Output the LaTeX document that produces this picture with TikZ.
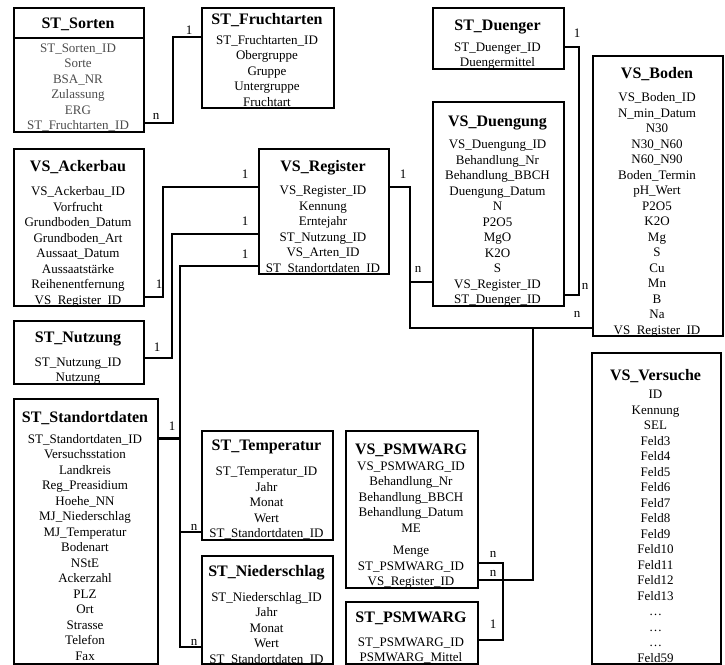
\documentclass[tikz,border=0pt]{standalone}
\usepackage{fontspec}
\setmainfont{Liberation Serif}
\tikzset{every picture/.style={line width=0.75pt}}
\tikzset{
  tbl/.style={draw, line width=2.4pt, inner sep=0pt, anchor=north west},
  fields/.style={anchor=north, inner sep=0pt, align=center, font=\fontsize{13}{15.5}\selectfont},
  lnk/.style={line width=1.8pt},
  card/.style={inner sep=0pt, font=\fontsize{13}{15.5}\selectfont},
}
\newcommand{\tabtitle}[1]{{\fontsize{16}{18}\selectfont\bfseries #1}}

\begin{document}
\begin{tikzpicture}[x=1pt,y=1pt,yscale=-1,xscale=1]
\useasboundingbox (0,0) rectangle (725,664);

% Table ST_Sorten
\node[tbl, minimum width=130pt, minimum height=124pt] (sorten) at (13,7) {};
\draw[line width=1.2pt] (sorten.west |- 0,38) -- (sorten.east |- 0,38);
\node[fields, text=black!70] (sortenTxt) at (78,18) {{\color{black}\tabtitle{ST\_Sorten}}\\[8pt]ST\_Sorten\_ID\\Sorte\\BSA\_NR\\Zulassung\\ERG\\ST\_Fruchtarten\_ID};
% Table ST_Fruchtarten
\node[tbl, minimum width=132pt, minimum height=100pt] (fruchtarten) at (201,7) {};
\node[fields] (fruchtartenTxt) at (267,13) {\tabtitle{ST\_Fruchtarten}\\[4.5pt]ST\_Fruchtarten\_ID\\Obergruppe\\Gruppe\\Untergruppe\\Fruchtart};
% Table ST_Duenger
\node[tbl, minimum width=131pt, minimum height=61pt] (duenger) at (432,7) {};
\node[fields] (duengerTxt) at (497.5,20) {\tabtitle{ST\_Duenger}\\[5pt]ST\_Duenger\_ID\\Duengermittel};
% Table VS_Duengung
\node[tbl, minimum width=131pt, minimum height=204pt] (duengung) at (432,101) {};
\node[fields] (duengungTxt) at (497.5,116) {\tabtitle{VS\_Duengung}\\[6.5pt]VS\_Duengung\_ID\\Behandlung\_Nr\\Behandlung\_BBCH\\Duengung\_Datum\\N\\P2O5\\MgO\\K2O\\S\\VS\_Register\_ID\\ST\_Duenger\_ID};
% Table VS_Boden
\node[tbl, minimum width=130pt, minimum height=280pt] (boden) at (592,55) {};
\node[fields] (bodenTxt) at (657,67) {\tabtitle{VS\_Boden}\\[8pt]VS\_Boden\_ID\\N\_min\_Datum\\N30\\N30\_N60\\N60\_N90\\Boden\_Termin\\pH\_Wert\\P2O5\\K2O\\Mg\\S\\Cu\\Mn\\B\\Na\\VS\_Register\_ID};
% Table VS_Register
\node[tbl, minimum width=130pt, minimum height=125pt] (register) at (258,148) {};
\node[fields] (registerTxt) at (323,160) {\tabtitle{VS\_Register}\\[8pt]VS\_Register\_ID\\Kennung\\Erntejahr\\ST\_Nutzung\_ID\\VS\_Arten\_ID\\ST\_Standortdaten\_ID};
% Table VS_Ackerbau
\node[tbl, minimum width=130pt, minimum height=157pt] (ackerbau) at (13,148) {};
\node[fields] (ackerbauTxt) at (78,160) {\tabtitle{VS\_Ackerbau}\\[9pt]VS\_Ackerbau\_ID\\Vorfrucht\\Grundboden\_Datum\\Grundboden\_Art\\Aussaat\_Datum\\Aussaatstärke\\Reihenentfernung\\VS\_Register\_ID};
% Table ST_Nutzung
\node[tbl, minimum width=130pt, minimum height=63pt] (nutzung) at (13,320) {};
\node[fields] (nutzungTxt) at (78,332) {\tabtitle{ST\_Nutzung}\\[8pt]ST\_Nutzung\_ID\\Nutzung};
% Table ST_Standortdaten
\node[tbl, minimum width=144pt, minimum height=265pt] (standort) at (13,398) {};
\node[fields] (standortTxt) at (85,411) {\tabtitle{ST\_Standortdaten}\\[5.5pt]ST\_Standortdaten\_ID\\Versuchsstation\\Landkreis\\Reg\_Preasidium\\Hoehe\_NN\\MJ\_Niederschlag\\MJ\_Temperatur\\Bodenart\\NStE\\Ackerzahl\\PLZ\\Ort\\Strasse\\Telefon\\Fax};
% Table ST_Temperatur
\node[tbl, minimum width=131pt, minimum height=109pt] (temperatur) at (201,430) {};
\node[fields] (temperaturTxt) at (266.5,440) {\tabtitle{ST\_Temperatur}\\[9.5pt]ST\_Temperatur\_ID\\Jahr\\Monat\\Wert\\ST\_Standortdaten\_ID};
% Table ST_Niederschlag
\node[tbl, minimum width=131pt, minimum height=108pt] (niederschlag) at (201,555) {};
\node[fields] (niederschlagTxt) at (266.5,565) {\tabtitle{ST\_Niederschlag}\\[9.5pt]ST\_Niederschlag\_ID\\Jahr\\Monat\\Wert\\ST\_Standortdaten\_ID};
% Table VS_PSMWARG
\node[tbl, minimum width=132pt, minimum height=157pt] (psmwargVS) at (345,430) {};
\node[fields] (psmwargVSTxt) at (411,444) {\tabtitle{VS\_PSMWARG}\\[0pt]VS\_PSMWARG\_ID\\Behandlung\_Nr\\Behandlung\_BBCH\\Behandlung\_Datum\\ME\\[7pt]Menge\\ST\_PSMWARG\_ID\\VS\_Register\_ID};
% Table ST_PSMWARG
\node[tbl, minimum width=132pt, minimum height=62pt] (psmwargST) at (345,601) {};
\node[fields] (psmwargSTTxt) at (411,612) {\tabtitle{ST\_PSMWARG}\\[8pt]ST\_PSMWARG\_ID\\PSMWARG\_Mittel};
% Table VS_Versuche
\node[tbl, minimum width=129pt, minimum height=311pt] (versuche) at (591,352) {};
\node[fields] (versucheTxt) at (655.5,369) {\tabtitle{VS\_Versuche}\\[3pt]ID\\Kennung\\SEL\\Feld3\\Feld4\\Feld5\\Feld6\\Feld7\\Feld8\\Feld9\\Feld10\\Feld11\\Feld12\\Feld13\\…\\…\\…\\Feld59};

% Junctions
\coordinate (jDuengung) at (410,282);
\coordinate (jPsmwarg) at (533,328);
\coordinate (jStandort) at (180,438);
\coordinate (jTemperatur) at (180,532);

% Connection ST_Sorten - ST_Fruchtarten
\draw[lnk] (sorten.east |- 0,123) -| (173,37) -- (fruchtarten.west |- 0,37);
\node[card] (cSortenN) at (156,116) {n};
\node[card] (cFruchtartenA) at (189,30) {1};
% Connection ST_Duenger - VS_Duengung
\draw[lnk] (duenger.east |- 0,47) -| (579,295) -- (duengung.east |- 0,295);
\node[card] (cDuengerA) at (577,33) {1};
\node[card] (cDuengungN) at (585,286) {n};
% Connection VS_Register - VS_Duengung, VS_Boden, VS_PSMWARG
\draw[lnk] (register.east |- 0,187) -| (410,328) -- (boden.west |- 0,328);
\draw[lnk] (jDuengung) -- (duengung.west |- jDuengung);
\draw[lnk] (jPsmwarg) |- (psmwargVS.east |- 0,580);
\node[card] (cRegisterA) at (403,174) {1};
\node[card] (cDuengungR) at (418,269) {n};
\node[card] (cBodenN) at (577,314) {n};
\node[card] (cPsmwargR) at (493,573) {n};
% Connection VS_PSMWARG - ST_PSMWARG
\draw[lnk] (psmwargVS.east |- 0,563) -| (503,640) -- (psmwargST.east |- 0,640);
\node[card] (cPsmwargN) at (493,554) {n};
\node[card] (cPsmwargA) at (493,624) {1};
% Connection VS_Ackerbau - VS_Register
\draw[lnk] (ackerbau.east |- 0,297) -| (163,187) -- (register.west |- 0,187);
\node[card] (cAckerbauA) at (159,284) {1};
\node[card] (cRegisterB) at (245,174) {1};
% Connection ST_Nutzung - VS_Register
\draw[lnk] (nutzung.east |- 0,358) -| (172,234) -- (register.west |- 0,234);
\node[card] (cNutzungA) at (157,347) {1};
\node[card] (cRegisterC) at (245,221) {1};
% Connection VS_Register - ST_Standortdaten, ST_Temperatur, ST_Niederschlag
\draw[lnk] (register.west |- 0,266) -| (180,647) -- (niederschlag.west |- 0,647);
\draw[line width=3pt] (standort.east |- jStandort) -- (jStandort);
\draw[lnk] (jTemperatur) -- (temperatur.west |- jTemperatur);
\node[card] (cRegisterD) at (245,254) {1};
\node[card] (cStandortA) at (172,426) {1};
\node[card] (cTemperaturN) at (194,527) {n};
\node[card] (cNiederschlagN) at (194,642) {n};

\end{tikzpicture}
\end{document}
